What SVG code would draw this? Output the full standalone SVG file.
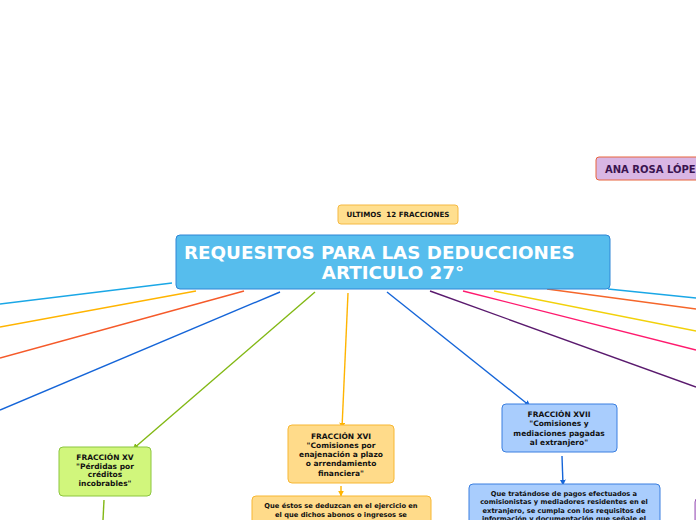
<svg xmlns="http://www.w3.org/2000/svg" width="696" height="520" viewBox="0 0 696 520">
<defs>
<marker id="arG" viewBox="0 0 10 10" refX="9" refY="5" markerWidth="6" markerHeight="6" orient="auto" markerUnits="userSpaceOnUse"><path d="M0,0 L10,5 L0,10 z" fill="#82b814"/></marker>
<marker id="arO" viewBox="0 0 10 10" refX="9" refY="5" markerWidth="6" markerHeight="6" orient="auto" markerUnits="userSpaceOnUse"><path d="M0,0 L10,5 L0,10 z" fill="#ffb400"/></marker>
<marker id="arB" viewBox="0 0 10 10" refX="9" refY="5" markerWidth="6" markerHeight="6" orient="auto" markerUnits="userSpaceOnUse"><path d="M0,0 L10,5 L0,10 z" fill="#1565d8"/></marker>
</defs>
<style>
.c{fill:none;stroke-width:1.4}
.t{font-family:"DejaVu Sans",Verdana,sans-serif;font-weight:bold;fill:#111;text-anchor:middle}
.n{font-size:7.5px}
.d{font-size:6.7px}
</style>
<rect width="696" height="520" fill="#ffffff"/>
<g id="connectors">
<line class="c" stroke="#1aa7e6" x1="172" y1="283" x2="0" y2="304"/>
<line class="c" stroke="#ffb400" x1="196" y1="291" x2="0" y2="327"/>
<line class="c" stroke="#f55a2a" x1="244" y1="291" x2="0" y2="358"/>
<line class="c" stroke="#1565d8" x1="280" y1="292" x2="0" y2="410"/>
<line class="c" stroke="#82b814" x1="315" y1="292" x2="133" y2="449" marker-end="url(#arG)"/>
<line class="c" stroke="#ffb400" x1="348" y1="293" x2="342" y2="428" marker-end="url(#arO)"/>
<line class="c" stroke="#1565d8" x1="387" y1="292" x2="530" y2="406" marker-end="url(#arB)"/>
<line class="c" stroke="#5a1a6e" x1="430" y1="291" x2="696" y2="387"/>
<line class="c" stroke="#ff1a6e" x1="463" y1="291" x2="696" y2="350"/>
<line class="c" stroke="#f2d10a" x1="494" y1="291" x2="696" y2="331"/>
<line class="c" stroke="#f5662a" x1="547" y1="289" x2="696" y2="309"/>
<line class="c" stroke="#1aa7e6" x1="608" y1="289" x2="696" y2="298"/>
<line class="c" stroke="#82b814" x1="104" y1="500" x2="103" y2="520"/>
<line class="c" stroke="#ffb400" x1="341" y1="486" x2="341" y2="496" marker-end="url(#arO)"/>
<line class="c" stroke="#1565d8" x1="562" y1="456" x2="563" y2="485" marker-end="url(#arB)"/>
</g>
<g id="ultimos">
<rect x="338" y="205" width="120" height="19" rx="3" fill="#ffdf8f" stroke="#f5b942" stroke-width="1"/>
<text class="t" x="398" y="217" font-size="7.1" xml:space="preserve">ULTIMOS  12 FRACCIONES</text>
</g>
<g id="ana">
<rect x="596" y="157" width="110" height="23" rx="3" fill="#d9b6e4" stroke="#e8643c" stroke-width="1"/>
<text x="605" y="172.5" font-family="DejaVu Sans,Verdana,sans-serif" font-weight="bold" font-size="10" fill="#3a1450">ANA ROSA LÓPE</text>
</g>
<g id="main">
<rect x="176" y="235" width="434" height="54" rx="4" fill="#56bded" stroke="#2f86d6" stroke-width="1"/>
<text x="184" y="258.5" font-family="DejaVu Sans,Verdana,sans-serif" font-weight="bold" font-size="18.3" fill="#ffffff">REQUESITOS PARA LAS DEDUCCIONES</text>
<text x="393" y="279" font-family="DejaVu Sans,Verdana,sans-serif" font-weight="bold" font-size="18.3" fill="#ffffff" text-anchor="middle">ARTICULO 27°</text>
</g>
<g id="xv">
<rect x="59" y="447" width="92" height="49" rx="4" fill="#d1f67c" stroke="#8cc63f" stroke-width="1"/>
<text class="t n" x="105" y="460">FRACCIÓN XV</text>
<text class="t n" x="105" y="468.7">"Pérdidas por</text>
<text class="t n" x="105" y="477.4">créditos</text>
<text class="t n" x="105" y="486.1">incobrables"</text>
</g>
<g id="xvi">
<rect x="288" y="425" width="106" height="58" rx="4" fill="#ffdb8a" stroke="#f7b733" stroke-width="1"/>
<text class="t n" x="341" y="438.5">FRACCIÓN XVI</text>
<text class="t n" x="341" y="447.8">"Comisiones por</text>
<text class="t n" x="341" y="457.1">enajenación a plazo</text>
<text class="t n" x="341" y="466.4">o arrendamiento</text>
<text class="t n" x="341" y="475.7">financiera"</text>
</g>
<g id="xvi-desc">
<rect x="252" y="496" width="179" height="40" rx="4" fill="#ffdb8a" stroke="#f7b733" stroke-width="1"/>
<text class="t d" x="341" y="507.5">Que éstos se deduzcan en el ejercicio en</text>
<text class="t d" x="341" y="516.5">el que dichos abonos o ingresos se</text>
</g>
<g id="xvii">
<rect x="502" y="404" width="115" height="48" rx="4" fill="#a9cdfd" stroke="#3a7fe0" stroke-width="1"/>
<text class="t n" x="559" y="417">FRACCIÓN XVII</text>
<text class="t n" x="559" y="426.3">"Comisiones y</text>
<text class="t n" x="559" y="435.6">mediaciones pagadas</text>
<text class="t n" x="559" y="444.9">al extranjero"</text>
</g>
<g id="xvii-desc">
<rect x="469" y="484" width="191" height="50" rx="4" fill="#a9cdfd" stroke="#3a7fe0" stroke-width="1"/>
<text class="t d" x="564" y="495.5">Que tratándose de pagos efectuados a</text>
<text class="t d" x="564" y="504">comisionistas y mediadores residentes en el</text>
<text class="t d" x="564" y="512.5">extranjero, se cumpla con los requisitos de</text>
<text class="t d" x="564" y="521">información y documentación que señale el</text>
</g>
<g id="right-node">
<rect x="695" y="498" width="60" height="40" rx="4" fill="#e2c9ee" stroke="#9b59b6" stroke-width="1"/>
</g>
</svg>
